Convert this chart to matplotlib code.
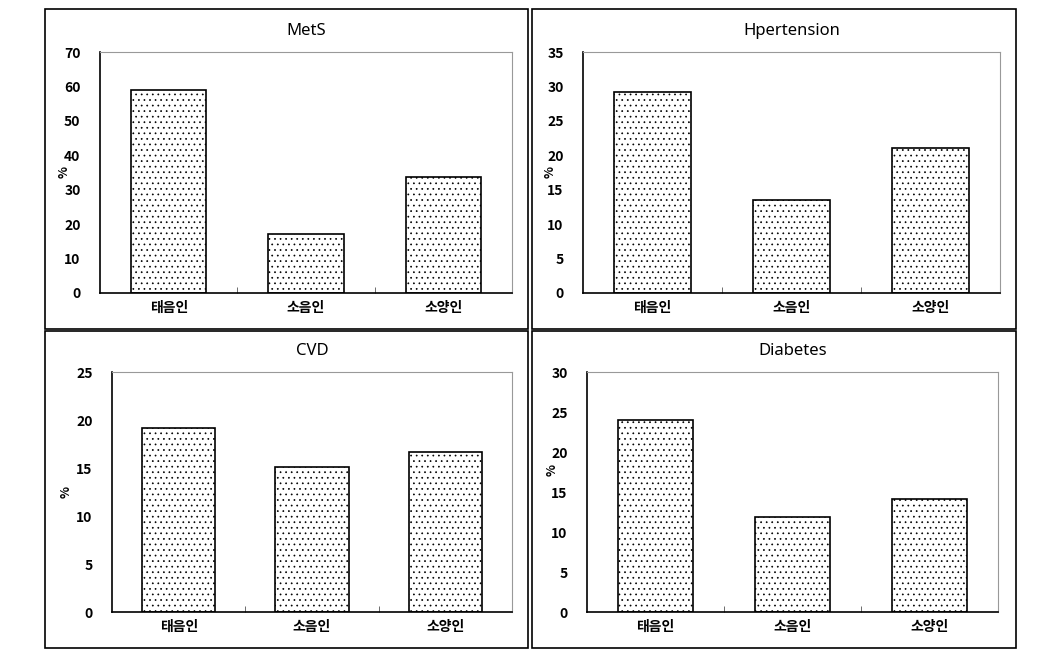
import matplotlib.pyplot as plt
from matplotlib.patches import Rectangle

plt.rcParams['font.family'] = ['Noto Sans CJK KR', 'DejaVu Sans']
plt.rcParams['hatch.linewidth'] = 0.5

categories = ['태음인', '소음인', '소양인']
titles = ['MetS', 'Hpertension', 'CVD', 'Diabetes']
mets = [59.0, 17.0, 33.8]
hypertension = [29.2, 13.5, 21.0]
cvd = [19.2, 15.1, 16.7]
diabetes = [24.0, 11.9, 14.1]
ymax = [70, 35, 25, 30]
ystep = [10, 5, 5, 5]

W, H = 1047, 660
fig = plt.figure(figsize=(W / 100, H / 100), dpi=100)


def px(x0, y0, x1, y1):
    # pixel box -> figure fraction [left, bottom, width, height]
    return [x0 / W, 1 - y1 / H, (x1 - x0) / W, (y1 - y0) / H]


panels = [(45, 9, 528, 329), (532, 9, 1016, 329), (45, 331, 528, 648), (532, 331, 1016, 648)]
axes_boxes = [(100, 52, 512, 293), (583, 52, 1000, 293), (112, 372, 512, 612), (587, 372, 998, 612)]
label_pos = [(-0.072, 0.5), (-0.064, 0.5), (-0.098, 0.5), (-0.07, 0.59)]
series = [mets, hypertension, cvd, diabetes]

for p in panels:
    l, b, w, h = px(*p)
    fig.add_artist(Rectangle((l, b), w, h, transform=fig.transFigure, fill=False,
                             edgecolor='black', linewidth=1.2))

for i, vals in enumerate(series):
    ax = fig.add_axes(px(*axes_boxes[i]))
    x = range(len(categories))
    ax.bar(x, vals, width=0.55, color='white', edgecolor='black', hatch='...', linewidth=1.2)
    ax.set_xlim(-0.5, 2.5)
    ax.set_ylim(0, ymax[i])
    ax.set_yticks(range(0, ymax[i] + 1, ystep[i]))
    ax.set_xticks(list(x))
    ax.set_xticklabels(categories, fontsize=10, fontweight='bold')
    ax.set_xticks([0.5, 1.5], minor=True)
    ax.tick_params(axis='x', which='major', length=0, pad=6)
    ax.tick_params(axis='x', which='minor', length=4, direction='in', color='#555555')
    ax.tick_params(axis='y', length=0, pad=14, labelsize=10)
    for lab in ax.get_yticklabels():
        lab.set_fontweight('bold')
    for s in ['top', 'right']:
        ax.spines[s].set_color('#999999')
    for s in ['left', 'bottom']:
        ax.spines[s].set_color('black')
        ax.spines[s].set_linewidth(1.2)
    ax.set_ylabel('%', fontsize=9, fontweight='bold')
    ax.yaxis.set_label_coords(*label_pos[i])
    ax.set_title(titles[i], fontsize=12, pad=12, family=['Noto Sans', 'DejaVu Sans'])

fig.savefig('out.png', dpi=100)
